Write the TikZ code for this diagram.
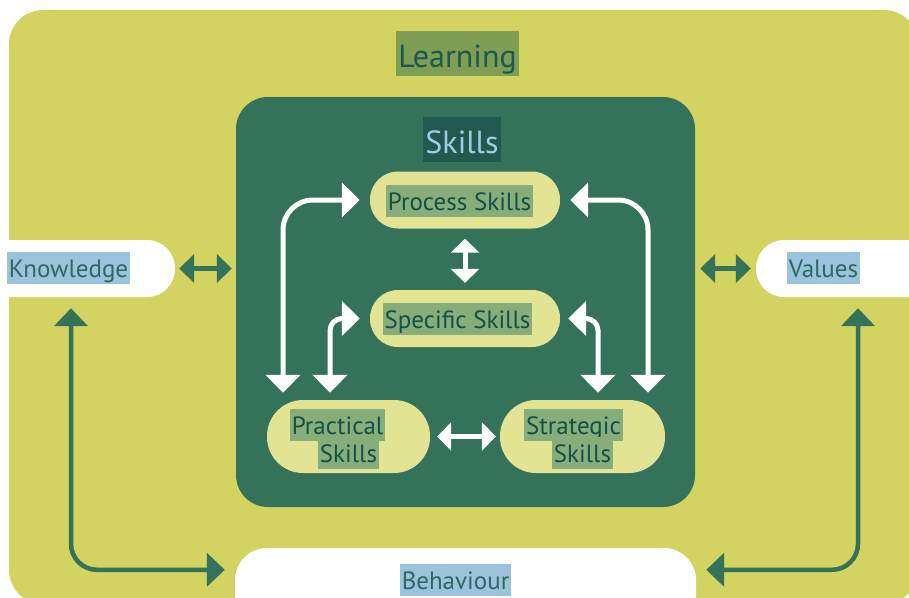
\documentclass[tikz,border=0pt]{standalone}
\usepackage{fontspec}
\setmainfont{PT Sans}
\usetikzlibrary{arrows.meta,positioning}

\definecolor{bgyellow}{RGB}{210,211,96}
\definecolor{skillgreen}{RGB}{52,114,90}
\definecolor{learnhl}{RGB}{127,158,84}
\definecolor{learntext}{RGB}{28,88,80}
\definecolor{skillshl}{RGB}{35,88,78}
\definecolor{skillstext}{RGB}{160,205,228}
\definecolor{pillfill}{RGB}{226,228,148}
\definecolor{pillhl}{RGB}{135,173,122}
\definecolor{pilltext}{RGB}{20,80,72}
\definecolor{outerhl}{RGB}{155,195,220}
\definecolor{outertext}{RGB}{45,105,98}

\begin{document}
\begin{tikzpicture}[x=1pt, y=-1pt,
		title/.style    = {anchor=base, inner xsep=2pt, inner ysep=2pt, text height=34pt, text depth=7pt, font=\fontsize{32}{38}\selectfont},
		label/.style    = {anchor=base, inner xsep=2pt, inner ysep=2pt, text height=23pt, text depth=5pt, font=\fontsize{25}{30}\selectfont},
		outer/.style    = {fill=white, rounded corners=28pt, minimum height=57pt, inner sep=0pt},
		outer text/.style = {label, fill=outerhl, text=outertext},
		pill/.style     = {fill=pillfill, rounded corners=28pt, minimum width=190pt, minimum height=57pt, inner sep=0pt},
		pill text/.style  = {label, fill=pillhl, text=pilltext},
		warrow/.style   = {draw=white, line width=5pt, {Triangle[width=34pt, length=18pt]}-{Triangle[width=34pt, length=18pt]}},
		wshort/.style   = {draw=white, line width=5pt, {Triangle[width=28pt, length=14pt]}-{Triangle[width=28pt, length=14pt]}},
		garrow/.style   = {draw=skillgreen, line width=4.5pt, rounded corners=26pt, {Triangle[width=33pt, length=18pt]}-{Triangle[width=33pt, length=18pt]}},
		gshort/.style   = {draw=skillgreen, line width=5pt, {Triangle[width=28pt, length=15pt]}-{Triangle[width=28pt, length=15pt]}}]
		
		\useasboundingbox (0,0) rectangle (909,597);
		
		% background of the learning area
		\fill[bgyellow, rounded corners=34pt] (9,10) rectangle (918,604);
		\node[title, fill=learnhl, text=learntext] (learning) at (457.5,67) {Learning};
		
		% outer nodes
		\node[outer, minimum width=200pt] (knowledge) at (75,268.5) {};
		\node[outer, minimum width=204pt] (values) at (858,268.5) {};
		\node[outer, minimum width=461pt, minimum height=100pt, rounded corners=32pt] (behaviour) at (465.5,598) {};
		
		% the skills box with its four pills
		\node[fill=skillgreen, rounded corners=32pt, minimum width=459pt, minimum height=410pt] (skills) at (465.5,302) {};
		\node[title, fill=skillshl, text=skillstext] (skillstitle) at (462,153) {Skills};
		
		\node[pill] (process) at (465,200) {};
		\node[pill] (specific) at (465,318.5) {};
		\node[pill, rounded corners=36pt, minimum width=163pt, minimum height=73pt] (practical) at (348.5,436.5) {};
		\node[pill, rounded corners=36pt, minimum width=165pt, minimum height=73pt] (strategic) at (582.5,436.5) {};
		
		% texts of the pills
		\begin{scope}[every node/.style={pill text}]
			\node (processtxt) at (459.5,210) {Process Skills};
			\node (specifictxt) at (457.5,328) {Specific Skills};
			\node (practicaltxt) at (337.5,434) {Practical};
			\node (practicaltxt2) at (348.5,462) {Skills};
			\node (strategictxt) at (573.5,434) {Strategic};
			\node (strategictxt2) at (582.5,462) {Skills};
		\end{scope}
		
		% texts of the outer nodes
		\begin{scope}[every node/.style={outer text}]
			\node (knowledgetxt) at (68.5,277) {Knowledge};
			\node (valuestxt) at (823.5,277) {Values};
			\node (behaviourtxt) at (455.5,589) {Behaviour};
		\end{scope}
		
		% white arrows inside the skills box
		\draw[warrow, rounded corners=30pt] ([xshift=-10pt]process.west) -| ([xshift=-65.5pt, yshift=7pt]practical.north);
		\draw[warrow, rounded corners=12pt] ([xshift=-10pt]specific.west) -| ([xshift=-18.5pt, yshift=7pt]practical.north);
		\draw[warrow, rounded corners=12pt] ([xshift=8pt]specific.east) -| ([xshift=15.5pt, yshift=7pt]strategic.north);
		\draw[warrow, rounded corners=30pt] ([xshift=10pt]process.east) -| ([xshift=65.5pt, yshift=7pt]strategic.north);
		
		\draw[wshort] ([yshift=-10pt]process.south) -- ([yshift=7pt]specific.north);
		\draw[wshort] ([xshift=7pt]practical.east) -- ([xshift=-4pt]strategic.west);
		
		% green arrows around the skills box
		\coordinate (kin) at (knowledge.east -| skills.west);
		\coordinate (vin) at (values.west -| skills.east);
		\draw[gshort] ([xshift=4pt]knowledge.east) -- ([xshift=-4pt]kin);
		\draw[gshort] ([xshift=5pt]vin) -- ([xshift=-5pt]values.west);
		
		\draw[garrow] ([xshift=-4pt, yshift=-11pt]knowledge.south) |- ([xshift=-10pt, yshift=-22pt]behaviour.north west);
		\draw[garrow] ([yshift=-11pt]values.south) |- ([xshift=10pt, yshift=-22pt]behaviour.north east);
		
	\end{tikzpicture}
\end{document}
